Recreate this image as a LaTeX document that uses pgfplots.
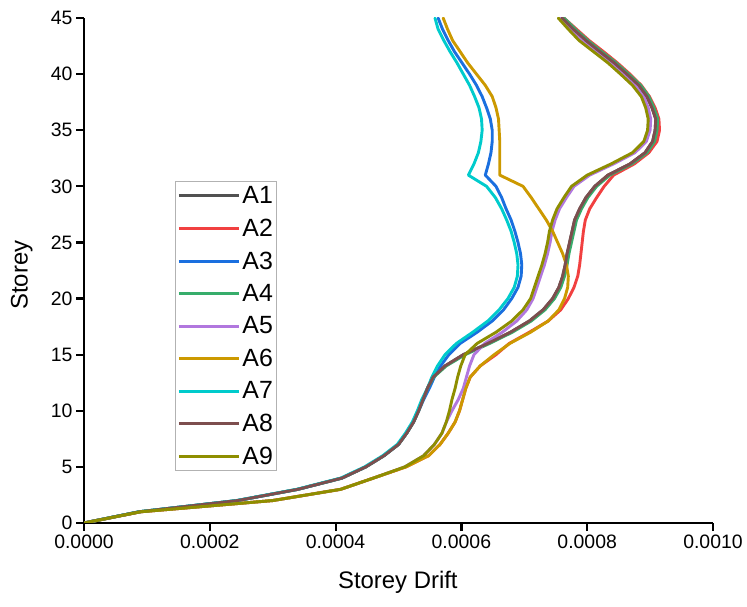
\documentclass[border=0pt]{standalone}
\usepackage{pgfplots}
\usepackage{pgfplotstable}
\pgfplotsset{compat=1.18}
\usepackage{fontspec}
\setmainfont{Liberation Sans}

\definecolor{cA1}{HTML}{515151}
\definecolor{cA2}{HTML}{F14040}
\definecolor{cA3}{HTML}{1A6FDF}
\definecolor{cA4}{HTML}{37AD6B}
\definecolor{cA5}{HTML}{B177DE}
\definecolor{cA6}{HTML}{CC9900}
\definecolor{cA7}{HTML}{00CBCC}
\definecolor{cA8}{HTML}{7D4E4E}
\definecolor{cA9}{HTML}{8E8E00}

% storey drift of each model, storey by storey
\pgfplotstableread{
s  A1       A2       A3       A4       A5       A6       A7       A8       A9
0  0        0        0        0        0        0        0        0        0
1  0.000088 0.000090 0.000088 0.000088 0.000090 0.000090 0.000087 0.000088 0.000090
2  0.000244 0.000300 0.000244 0.000244 0.000300 0.000300 0.000242 0.000244 0.000300
3  0.000340 0.000408 0.000340 0.000340 0.000408 0.000408 0.000338 0.000340 0.000408
4  0.000410 0.000460 0.000410 0.000410 0.000460 0.000460 0.000408 0.000410 0.000460
5  0.000448 0.000512 0.000448 0.000448 0.000510 0.000512 0.000446 0.000448 0.000510
6  0.000477 0.000548 0.000477 0.000477 0.000540 0.000548 0.000475 0.000477 0.000540
7  0.000500 0.000566 0.000500 0.000500 0.000557 0.000566 0.000498 0.000500 0.000557
8  0.000513 0.000579 0.000513 0.000513 0.000569 0.000579 0.000511 0.000513 0.000569
9  0.000524 0.000590 0.000524 0.000524 0.000576 0.000590 0.000522 0.000524 0.000576
10 0.000532 0.000597 0.000532 0.000532 0.000585 0.000597 0.000530 0.000532 0.000581
11 0.000539 0.000602 0.000540 0.000539 0.000595 0.000602 0.000537 0.000539 0.000585
12 0.000546 0.000607 0.000549 0.000546 0.000603 0.000607 0.000546 0.000546 0.000590
13 0.000555 0.000614 0.000557 0.000556 0.000608 0.000614 0.000553 0.000555 0.000594
14 0.000574 0.000630 0.000567 0.000576 0.000613 0.000630 0.000562 0.000574 0.000599
15 0.000603 0.000655 0.000580 0.000606 0.000620 0.000652 0.000574 0.000603 0.000606
16 0.000642 0.000676 0.000598 0.000645 0.000637 0.000677 0.000592 0.000642 0.000625
17 0.000678 0.000708 0.000625 0.000681 0.000665 0.000710 0.000618 0.000678 0.000655
18 0.000708 0.000738 0.000649 0.000711 0.000688 0.000738 0.000642 0.000708 0.000680
19 0.000730 0.000758 0.000667 0.000733 0.000704 0.000755 0.000660 0.000730 0.000698
20 0.000745 0.000770 0.000680 0.000748 0.000714 0.000764 0.000674 0.000745 0.000710
21 0.000755 0.000779 0.000690 0.000758 0.000720 0.000769 0.000684 0.000755 0.000716
22 0.000761 0.000785 0.000695 0.000764 0.000726 0.000770 0.000689 0.000761 0.000722
23 0.000765 0.000788 0.000696 0.000768 0.000732 0.000767 0.000690 0.000765 0.000728
24 0.000768 0.000790 0.000694 0.000771 0.000737 0.000761 0.000688 0.000768 0.000733
25 0.000772 0.000792 0.000690 0.000775 0.000741 0.000753 0.000684 0.000772 0.000737
26 0.000776 0.000794 0.000685 0.000779 0.000744 0.000745 0.000679 0.000776 0.000740
27 0.000780 0.000797 0.000679 0.000783 0.000749 0.000735 0.000672 0.000780 0.000745
28 0.000788 0.000804 0.000671 0.000791 0.000756 0.000723 0.000664 0.000788 0.000752
29 0.000798 0.000815 0.000664 0.000801 0.000767 0.000711 0.000654 0.000798 0.000763
30 0.000812 0.000827 0.000655 0.000815 0.000779 0.000698 0.000640 0.000812 0.000775
31 0.000833 0.000842 0.000638 0.000836 0.000804 0.000661 0.000611 0.000833 0.000800
32 0.000868 0.000875 0.000643 0.000871 0.000842 0.000661 0.000620 0.000868 0.000838
33 0.000892 0.000898 0.000647 0.000895 0.000876 0.000661 0.000627 0.000892 0.000872
34 0.000904 0.000911 0.000649 0.000907 0.000894 0.000661 0.000631 0.000904 0.000890
35 0.000908 0.000915 0.000649 0.000911 0.000900 0.000660 0.000633 0.000908 0.000896
36 0.000909 0.000914 0.000646 0.000912 0.000901 0.000659 0.000632 0.000909 0.000897
37 0.000903 0.000908 0.000640 0.000906 0.000897 0.000655 0.000628 0.000903 0.000893
38 0.000895 0.000899 0.000633 0.000898 0.000890 0.000649 0.000621 0.000895 0.000886
39 0.000882 0.000886 0.000624 0.000885 0.000876 0.000638 0.000613 0.000882 0.000872
40 0.000863 0.000868 0.000613 0.000866 0.000857 0.000624 0.000603 0.000863 0.000853
41 0.000843 0.000848 0.000601 0.000846 0.000837 0.000610 0.000593 0.000843 0.000833
42 0.000820 0.000826 0.000589 0.000823 0.000814 0.000598 0.000582 0.000820 0.000810
43 0.000798 0.000803 0.000579 0.000801 0.000791 0.000586 0.000572 0.000798 0.000787
44 0.000778 0.000783 0.000570 0.000781 0.000774 0.000578 0.000563 0.000778 0.000770
45 0.000760 0.000763 0.000563 0.000763 0.000758 0.000571 0.000558 0.000760 0.000754
}\drift

\pgfplotsset{driftline/.style={line width=2.9bp, line join=round, line cap=round}}

\begin{document}
\begin{tikzpicture}
\useasboundingbox (0,0) rectangle (747bp,607bp);
\begin{axis}[
  at={(84bp,84bp)}, anchor=south west,
  scale only axis, width=629bp, height=505bp,
  xmin=0, xmax=0.001, ymin=0, ymax=45,
  axis x line=bottom, axis y line=left,
  axis line style={-, line width=2.6bp},
  every tick/.style={black, line width=2.2bp},
  tick align=outside, major tick length=8bp,
  xtick={0,0.0002,0.0004,0.0006,0.0008,0.001},
  ytick={0,5,...,45},
  scaled x ticks=false,
  xticklabel style={/pgf/number format/.cd, fixed, fixed zerofill, precision=4},
  /pgf/number format/assume math mode=true,
  tick label style={font=\fontsize{19.5}{22}\selectfont, black},
  label style={font=\fontsize{24}{28}\selectfont},
  xlabel={Storey Drift},
  ylabel={Storey},
  xlabel style={at={(axis description cs:0.499,-0.117)}, anchor=center},
  ylabel style={at={(axis description cs:-0.099,0.491)}, anchor=center},
  legend style={at={(axis description cs:0.1447,0.677)}, anchor=north west,
    draw=black!30, line width=1bp, font=\fontsize{25}{29}\selectfont,
    inner xsep=2bp, inner ysep=3bp, row sep=9.8bp},
  legend cell align=left,
  legend image code/.code={\draw[#1, line cap=butt] (0bp,0bp) -- (60bp,0bp);},
]
\addplot[driftline, cA1] table[x=A1, y=s] {\drift}; \addlegendentry{A1}
\addplot[driftline, cA2] table[x=A2, y=s] {\drift}; \addlegendentry{A2}
\addplot[driftline, cA3] table[x=A3, y=s] {\drift}; \addlegendentry{A3}
\addplot[driftline, cA4] table[x=A4, y=s] {\drift}; \addlegendentry{A4}
\addplot[driftline, cA5] table[x=A5, y=s] {\drift}; \addlegendentry{A5}
\addplot[driftline, cA6] table[x=A6, y=s] {\drift}; \addlegendentry{A6}
\addplot[driftline, cA7] table[x=A7, y=s] {\drift}; \addlegendentry{A7}
\addplot[driftline, cA8] table[x=A8, y=s] {\drift}; \addlegendentry{A8}
\addplot[driftline, cA9] table[x=A9, y=s] {\drift}; \addlegendentry{A9}
\end{axis}
\end{tikzpicture}
\end{document}
